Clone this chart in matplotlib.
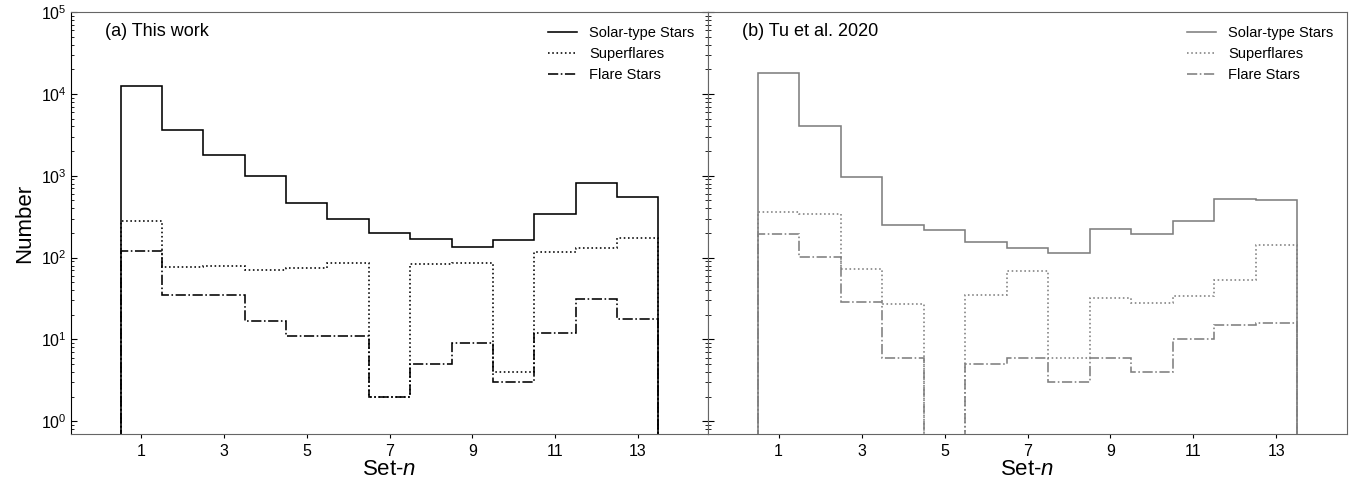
import numpy as np
import matplotlib
matplotlib.use("Agg")
import matplotlib.pyplot as plt

plt.rcParams['font.family'] = ['Liberation Sans', 'DejaVu Sans']
plt.rcParams['mathtext.fontset'] = 'custom'
plt.rcParams['mathtext.rm'] = 'Liberation Sans'
plt.rcParams['mathtext.it'] = 'Liberation Sans:italic'

# Data
set_n = np.arange(1, 14)
edges = np.arange(0.5, 14.5, 1.0)

solar_a = [12600, 3640, 1800, 1000, 470, 293, 202, 167, 134, 164, 337, 805, 550]
super_a = [280, 76, 79, 71, 74, 87, 2, 84, 85, 4, 117, 130, 175]
flare_a = [121, 35, 35, 17, 11, 11, 2, 5, 9, 3, 12, 31, 18]

solar_b = [17900, 4000, 953, 250, 215, 155, 130, 114, 221, 195, 283, 525, 505]
super_b = [364, 341, 73, 27, 0, 35, 68, 6, 32, 28, 34, 53, 143]
flare_b = [195, 102, 29, 6, 0, 5, 6, 3, 6, 4, 10, 15, 16]

labels = ["Solar-type Stars", "Superflares", "Flare Stars"]
titles = ["(a) This work", "(b) Tu et al. 2020"]

fig = plt.figure(figsize=(13.64, 4.9), dpi=100)
ax1 = fig.add_axes([71 / 1364, 56 / 490, 637 / 1364, 422 / 490])
ax2 = fig.add_axes([708 / 1364, 56 / 490, 639 / 1364, 422 / 490], sharey=ax1)


def draw_panel(ax, series, color, title):
    styles = ['-', ':', '-.']
    for vals, ls, lab in zip(series, styles, labels):
        ax.stairs(vals, edges, baseline=0, color=color, linestyle=ls, lw=1.15, label=lab)
    ax.set_yscale('log')
    ax.set_ylim(0.7, 1e5)
    ax.set_xlim(-0.7, 14.7)
    ax.set_xticks(set_n[::2])
    ax.tick_params(axis='x', direction='out', length=3, labelsize=11.5, pad=4)
    ax.tick_params(axis='y', which='both', direction='in', labelsize=11.5, pad=3)
    ax.tick_params(axis='y', which='major', length=4)
    ax.tick_params(axis='y', which='minor', length=2)
    ax.set_xlabel('Set-$n$', fontsize=16, labelpad=0)
    for s in ax.spines.values():
        s.set_color('#666666')
    ax.text(0.053, 0.943, title, transform=ax.transAxes, fontsize=13, va='baseline')
    leg = ax.legend(loc='upper right', frameon=False, fontsize=10.5, labelspacing=0.5,
                    handlelength=2.0, borderaxespad=0.55)
    for t in leg.get_texts():
        t.set_color('black')


draw_panel(ax1, [solar_a, super_a, flare_a], 'black', titles[0])
draw_panel(ax2, [solar_b, super_b, flare_b], '#7f7f7f', titles[1])

ax1.spines['left'].set_color('black')
ax1.tick_params(axis='y', which='both', right=True)
ax1.set_ylabel('Number', fontsize=16, labelpad=4)
ax2.tick_params(axis='y', which='both', labelleft=False, left=True, right=False)

fig.savefig('out.png', dpi=100)
